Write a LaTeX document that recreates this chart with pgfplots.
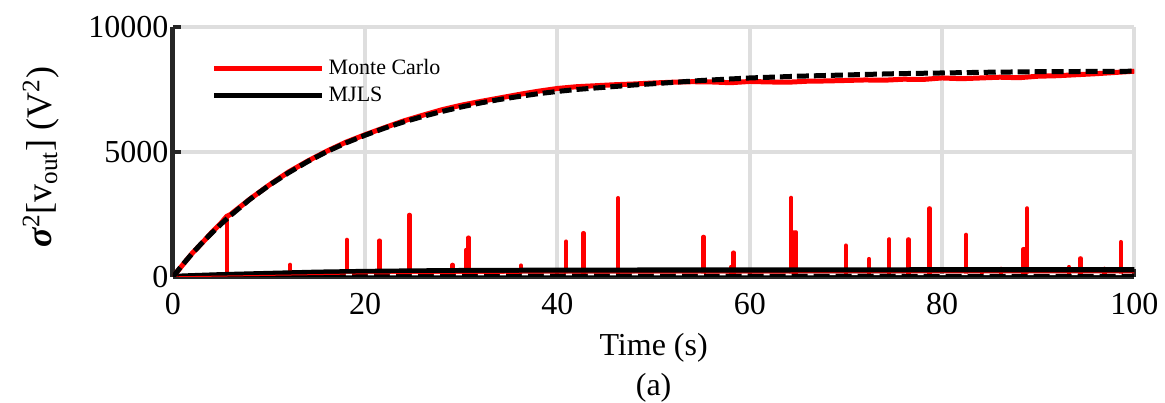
\documentclass[border=0pt]{standalone}
\usepackage{fontspec}
\setmainfont{Liberation Serif}
\usepackage{pgfplots}
\pgfplotsset{compat=1.18}
\definecolor{gridgray}{RGB}{222,222,222}
\definecolor{axblack}{RGB}{38,38,38}
\begin{document}
\begin{tikzpicture}
\begin{axis}[
  scale only axis, width=481pt, height=125pt,
  xmin=0, xmax=100, ymin=0, ymax=10000,
  xtick={0,20,40,60,80,100}, ytick={0,5000,10000},
  scaled y ticks=false, scaled x ticks=false,
  /pgf/number format/assume math mode=true,
  /pgf/number format/set thousands separator={},
  separate axis lines,
  axis x line*=bottom, axis y line*=left,
  axis line style={-, line width=2.5pt, color=axblack},
  grid=major, major grid style={line width=2pt, color=gridgray},
  tick align=inside, xtick pos=bottom, ytick pos=left,
  major tick length=4pt,
  major tick style={line width=2pt, color=axblack},
  tick label style={font=\fontsize{16}{18}\selectfont},
  xticklabel style={yshift=-4.5pt},
  yticklabel style={xshift=1.3pt},
  xlabel={Time (s)\\(a)},
  ylabel={{\bfseries\itshape σ}\textsuperscript{2}[v\textsubscript{out}] (V\textsuperscript{2})},
  every axis x label/.style={at={(axis description cs:0.5,0)}, anchor=north, yshift=-28pt, align=center, inner sep=0pt, font=\fontsize{16}{20}\selectfont},
  every axis y label/.style={at={(axis description cs:-0.1175,0.48)}, anchor=south, rotate=90, inner sep=0pt, font=\fontsize{18}{20}\selectfont},
  legend style={at={(rel axis cs:0.04,0.89)}, anchor=north west, draw=none, fill=none, inner sep=0pt,
    font=\fontsize{11}{13}\selectfont, nodes={inner sep=2pt, text height=7.7pt, text depth=2pt}},
  legend cell align=left,
  legend image code/.code={\draw[#1,solid] (0pt,0pt) -- (54pt,0pt);},
]
% spikes (Monte Carlo, lower signal)
\addplot[red, ycomb, line width=2.2pt, line cap=round, no marks, forget plot] coordinates {
(5.6,2380)(12.2,480)(18.1,1480)(21.5,1450)(24.6,2480)(29.1,480)(30.55,1080)(30.75,1570)
(36.2,450)(40.9,1410)(42.7,1750)(46.3,3150)(55.2,1600)(58.05,390)(58.3,970)
(64.3,3160)(64.6,1780)(64.8,1780)(70,1250)(72.4,710)(74.5,1500)(76.5,1500)(78.7,2740)
(82.5,1680)(84.15,280)(86.15,320)(88.45,1110)(88.6,1110)(88.85,2740)(93.2,390)
(94.4,740)(96.9,320)(98.6,1390)
};
% lower MJLS band
\addplot[black, line width=2.5pt, forget plot] coordinates {(0,0)(100,0)};
\addplot[black, line width=3pt, forget plot] coordinates {
(0,0)(2,30)(5,70)(10,120)(15,170)(20,200)(25,220)(30,235)(40,250)(50,255)(60,260)(80,265)(100,270)};
\addplot[red, line width=0.5pt, forget plot] coordinates {(0,0)(10,60)(20,120)(40,150)(100,160)};
\addplot[white, line width=0.8pt, dash pattern=on 3pt off 8pt, forget plot] coordinates {(18,90)(100,100)};
% mean curves
\addplot[red, line width=2.5pt] coordinates {
(0,0)(1,470)(2,940)(3,1340)(4,1760)(5,2150)(5.6,2420)(6,2500)(8,3110)(10,3670)
(12,4190)(14,4630)(16,5030)(18,5390)(20,5690)(22,5970)(24,6240)(26,6470)(28,6690)
(30,6870)(32,7020)(34,7160)(36,7300)(38,7430)(40,7540)(42,7610)(44,7650)(46,7690)
(48,7720)(50,7760)(52,7790)(54,7810)(56,7800)(58,7770)(60,7820)(62,7800)(64,7790)
(66,7830)(68,7840)(70,7860)(72,7880)(74,7870)(76,7910)(78,7900)(80,7960)(82,7930)
(84,7960)(86,7990)(88,7970)(90,8030)(92,8050)(94,8090)(96,8130)(98,8180)(100,8230)};
\addlegendentry{Monte Carlo}
\addplot[black, line width=2.5pt, dash pattern=on 6pt off 2.5pt] coordinates {
(0,0)(1,480)(2,930)(3,1350)(4,1740)(5,2110)(6,2460)(8,3100)(10,3660)(12,4160)
(14,4610)(16,5010)(18,5360)(20,5670)(22,5950)(24,6200)(26,6420)(28,6620)(30,6800)
(32,6960)(34,7100)(36,7220)(38,7330)(40,7420)(42,7500)(44,7560)(46,7620)(48,7680)
(50,7730)(55,7860)(60,7960)(65,8030)(70,8080)(75,8130)(80,8160)(85,8190)(90,8210)
(95,8220)(100,8230)};
\addlegendentry{MJLS}
\end{axis}
\path (current axis.south west) ++(-86.5pt,-61.5pt) coordinate (bbsw);
\path (current axis.north east) ++(15pt,13.5pt) coordinate (bbne);
\path[use as bounding box] (bbsw) rectangle (bbne);
\end{tikzpicture}
\end{document}
